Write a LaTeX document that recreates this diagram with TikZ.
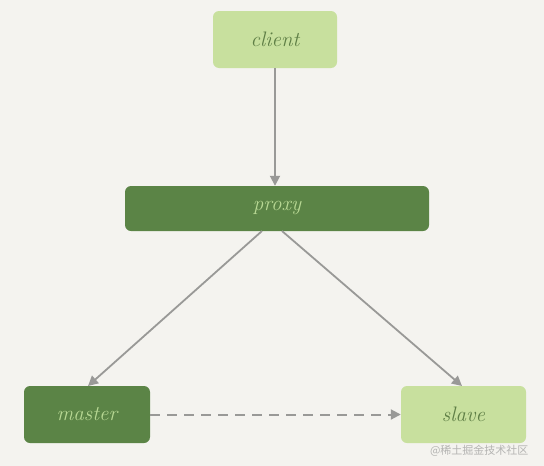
\documentclass[tikz,border=0pt]{standalone}
\usepackage{fontspec}
\newfontfamily\cjk{Noto Sans CJK SC}
\usetikzlibrary{arrows.meta}
\definecolor{bg}{HTML}{F4F3EF}
\definecolor{lightg}{HTML}{C8E09E}
\definecolor{darkg}{HTML}{5B8446}
\definecolor{txtlight}{HTML}{B8D894}
\definecolor{txtdark}{HTML}{5E7E45}
\definecolor{arr}{HTML}{999997}
\definecolor{wmc}{HTML}{B4B4B2}
\tikzset{
  boxl/.style={fill=lightg, rounded corners=6pt, text=txtdark, font=\fontsize{21}{21}\selectfont\itshape},
  boxd/.style={fill=darkg, rounded corners=6pt, text=txtlight, font=\fontsize{21}{21}\selectfont\itshape},
  conn/.style={draw=arr, line width=1.8pt, -{Triangle[length=10pt,width=10pt]}},
}
\begin{document}
\begin{tikzpicture}[x=1pt,y=-1pt]
\fill[bg] (0,0) rectangle (544,466);
\useasboundingbox (0,0) rectangle (544,466);
\node[boxl, minimum width=124pt, minimum height=57pt] (client) at (275,39.5) {client};
\node[boxd, minimum width=304pt, minimum height=45pt] (proxy) at (277,208.5) {proxy};
\node[boxd, minimum width=126pt, minimum height=57pt] (master) at (87,414.5) {master};
\node[boxl, minimum width=125pt, minimum height=57pt] (slave) at (463.5,414.5) {slave};
\coordinate (pl) at (262,231);
\coordinate (pr) at (282,231);
\coordinate (mt) at (88,386);
\coordinate (st) at (462,386);
\draw[conn] (client.south) -- (client.south |- proxy.north);
\draw[conn] (pl) -- (mt);
\draw[conn] (pr) -- (st);
\draw[conn, line width=2pt, dash pattern=on 10pt off 7pt] (master.east) -- (slave.west);
\node[text=wmc, font=\cjk\fontsize{11}{11}\selectfont, anchor=east] (wm) at (532,451) {@稀土掘金技术社区};
\end{tikzpicture}
\end{document}
